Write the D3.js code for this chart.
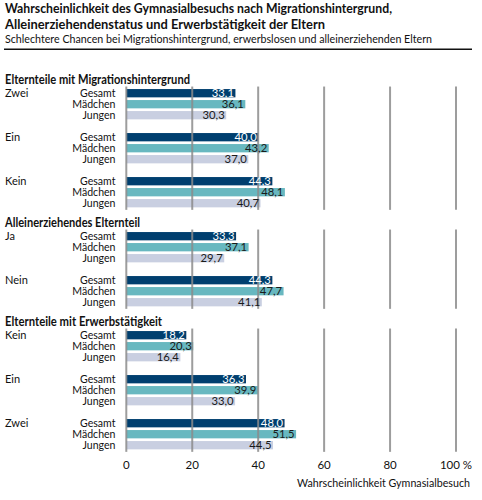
<!DOCTYPE html>
<html><head><meta charset="utf-8">
<script src="https://cdn.jsdelivr.net/npm/d3@7"></script>
<style>
body{margin:0;background:#fff;}
svg{display:block;font-family:Lato, "Noto Sans", sans-serif;}
</style></head>
<body><svg id="c" width="482" height="500"></svg>
<script>
const titleLines = ["Wahrscheinlichkeit des Gymnasialbesuchs nach Migrationshintergrund,", "Alleinerziehendenstatus und Erwerbstätigkeit der Eltern"];
const subtitle = "Schlechtere Chancen bei Migrationshintergrund, erwerbslosen und alleinerziehenden Eltern";
const groups = ["Elternteile mit Migrationshintergrund", "Alleinerziehendes Elternteil", "Elternteile mit Erwerbstätigkeit"];
const subgroups = [["Zwei", "Ein", "Kein"], ["Ja", "Nein"], ["Kein", "Ein", "Zwei"]];
const series = ["Gesamt", "Mädchen", "Jungen"];
const gesamt = [[33.1, 40.0, 44.3], [33.3, 44.3], [18.2, 36.3, 48.0]];
const maedchen = [[36.1, 43.2, 48.1], [37.1, 47.7], [20.3, 39.9, 51.5]];
const jungen = [[30.3, 37.0, 40.7], [29.7, 41.1], [16.4, 33.0, 44.5]];
const xTicks = [0, 20, 40, 60, 80, 100];
const axisTitle = "Wahrscheinlichkeit Gymnasialbesuch";

const values = [gesamt, maedchen, jungen];
const colors = {"Gesamt": "#003f6f", "Mädchen": "#68b8c0", "Jungen": "#c9cfe1"};
const textColors = {"Gesamt": "#ffffff", "Mädchen": "#1a1a1a", "Jungen": "#1a1a1a"};

const svg = d3.select("#c");

function fitWidth(sel, w) {
  sel.attr("textLength", w).attr("lengthAdjust", "spacingAndGlyphs");
}
function squeeze(sel, f) {
  sel.each(function () {
    const w = this.getComputedTextLength();
    d3.select(this).attr("textLength", w * f).attr("lengthAdjust", "spacingAndGlyphs");
  });
}

// Build slot list
const slots = [];
groups.forEach((g, gi) => {
  slots.push(`h${gi}a`, `h${gi}b`);
  subgroups[gi].forEach((s, si) => {
    if (si > 0) slots.push(`gap${gi}_${si}`);
    series.forEach(se => slots.push(`${gi}_${si}_${se}`));
  });
});
const step = 11;
const y0 = 65.7;
const y = d3.scaleBand().domain(slots).range([y0, y0 + step * slots.length]).paddingInner(0.245).paddingOuter(0.1225);
const x = d3.scaleLinear().domain([0, 100]).range([126.3, 456]);

// Title
const titleWidths = [387, 320];
svg.append("g").selectAll("text").data(titleLines).join("text")
  .attr("x", 5).attr("y", (d, i) => 12.5 + i * 16)
  .attr("font-size", 13.5).attr("font-weight", "bold").attr("fill", "#111")
  .text(d => d)
  .each(function (d, i) { fitWidth(d3.select(this), titleWidths[i]); });
svg.append("text").attr("x", 5).attr("y", 42.5).attr("font-size", 11.4).attr("fill", "#111").text(subtitle)
  .call(fitWidth, 427);
svg.append("line").attr("x1", 4).attr("x2", 472).attr("y1", 49.3).attr("y2", 49.3).attr("stroke", "#111").attr("stroke-width", 1.5);

const bw = y.bandwidth();
const headerWidths = [185, 135, 157];

groups.forEach((g, gi) => {
  const gEl = svg.append("g");
  gEl.append("text").attr("x", 5).attr("y", y(`h${gi}b`) + bw / 2 + 1.3)
    .attr("font-size", 12.5).attr("font-weight", "bold").attr("fill", "#111").text(g)
    .call(fitWidth, headerWidths[gi]);
  const rows = [];
  subgroups[gi].forEach((s, si) => {
    gEl.append("text").attr("x", 5).attr("y", y(`${gi}_${si}_Gesamt`) + bw / 2 + 4)
      .attr("font-size", 12).attr("fill", "#111").text(s).call(squeeze, 0.92);
    series.forEach((se, k) => rows.push({key: `${gi}_${si}_${se}`, se, v: values[k][gi][si]}));
  });
  // series labels
  gEl.selectAll("text.sl").data(rows).join("text").attr("class", "sl")
    .attr("x", 115.5).attr("y", d => y(d.key) + bw / 2 + 4)
    .attr("text-anchor", "end").attr("font-size", 12).attr("fill", "#111").text(d => d.se)
    .call(squeeze, 0.88);
  // bars
  gEl.selectAll("rect").data(rows).join("rect")
    .attr("x", x(0)).attr("y", d => y(d.key)).attr("height", bw)
    .attr("width", d => x(d.v) - x(0)).attr("fill", d => colors[d.se]);
  // gridlines for group
  const top = y(rows[0].key) - 2.5;
  const bot = y(rows[rows.length - 1].key) + bw + 2.5;
  gEl.selectAll("line.grid").data(xTicks).join("line").attr("class", "grid")
    .attr("x1", d => x(d)).attr("x2", d => x(d)).attr("y1", top).attr("y2", bot)
    .attr("stroke", "#8c8c8c").attr("stroke-width", 2).attr("opacity", 0.85);
  // value labels
  gEl.selectAll("text.vl").data(rows).join("text").attr("class", "vl")
    .attr("x", d => x(d.v) - 1.5).attr("y", d => y(d.key) + bw / 2 + 4)
    .attr("text-anchor", "end").attr("font-size", 12).attr("fill", d => textColors[d.se])
    .text(d => d3.format(".1f")(d.v).replace(".", ","))
    .call(squeeze, 0.94);
});

// x axis labels
const axisY = 469;
svg.append("g").selectAll("text").data(xTicks).join("text")
  .attr("x", d => x(d)).attr("y", axisY).attr("text-anchor", "middle")
  .attr("font-size", 11.5).attr("fill", "#111")
  .text(d => d === 100 ? "100 %" : d);
svg.append("text").attr("x", 470).attr("y", 487).attr("text-anchor", "end")
  .attr("font-size", 11.2).attr("fill", "#111").text(axisTitle).call(fitWidth, 173);
</script></body></html>
